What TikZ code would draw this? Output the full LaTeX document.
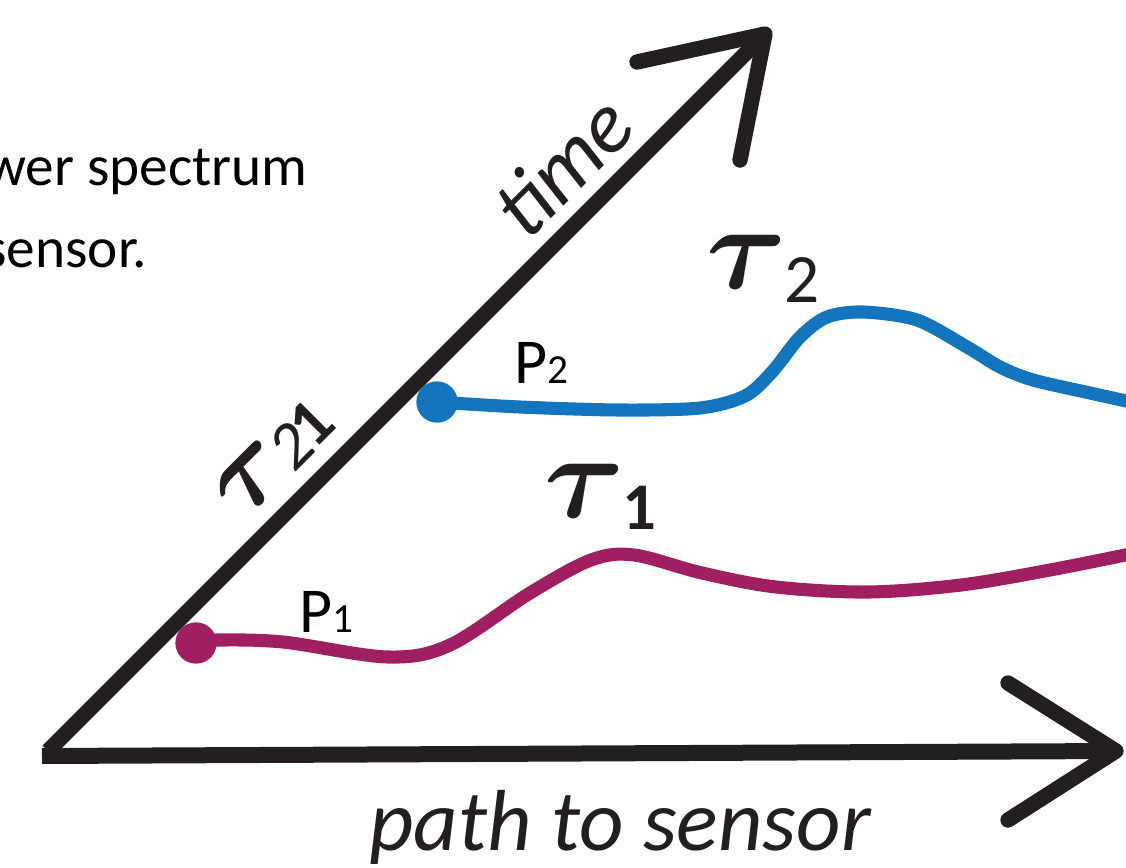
\documentclass[tikz,border=0pt]{standalone}
\usepackage{amsmath}
\usepackage{fontspec}
\setmainfont{Carlito}
\usepackage{graphicx}
\definecolor{axisc}{HTML}{231F20}
\definecolor{bluec}{HTML}{1275BD}
\definecolor{magc}{HTML}{A01F62}
\newcommand{\bigtau}{\scalebox{9.2}[9]{$\boldsymbol{\tau}$}}
\begin{document}
\begin{tikzpicture}[x=0.75pt,y=-0.75pt,
  axisline/.style={draw=axisc,line width=11.5pt,line cap=butt},
  arrowarm/.style={draw=axisc,line width=11.5pt,line cap=round,line join=round},
  curveline/.style={line width=9.8pt,line cap=round},
  dotnode/.style={circle,inner sep=0pt,minimum size=31pt},
  plabel/.style={inner sep=0pt,anchor=base west,font=\fontsize{48}{50}\selectfont},
  taulabel/.style={inner sep=0pt,anchor=base west,text=axisc},
  axislabel/.style={inner sep=0pt,text=axisc,font=\fontsize{65}{70}\selectfont\itshape},
  bodytext/.style={inner sep=0pt,anchor=base east,font=\fontsize{43}{48}\selectfont}]
\useasboundingbox (0,0) rectangle (1126,867);
% clipped body text
\node[bodytext] (t1) at (308,185) {wer spectrum};
\node[bodytext] (t2) at (147,267) {sensor.};
% axes
\coordinate (O) at (48,751);
\coordinate (Hstart) at (42,756);
\coordinate (Htip) at (1116,751);
\coordinate (Ttip) at (765,34);
\coordinate (Ta1) at (637,62);
\coordinate (Ta2) at (740,160);
\coordinate (Ha1) at (1008,683);
\coordinate (Ha2) at (1008,820);
\draw[axisline,line width=12pt] (Hstart) -- (Htip);
\draw[axisline] (O) -- (Ttip);
\draw[arrowarm] (Ta1) -- (Ttip) -- (Ta2);
\draw[arrowarm] (Ha1) -- (Htip) -- (Ha2);
% axis labels
\node[axislabel,rotate=45] (time) at (562,166) {time};
\node[axislabel,anchor=base] (path) at (620,850) {path to sensor};
% curves
\node[dotnode,fill=bluec] (P2dot) at (437,402) {};
\node[dotnode,fill=magc] (P1dot) at (196,643) {};
\draw[curveline,bluec] plot[smooth,tension=0.5] coordinates {(437,402) (520,407) (620,410) (700,408) (745,396) (772,372) (800,337) (827,317) (863,312) (917,320) (967,347) (1000,367) (1033,380) (1090,393) (1140,404)};
\draw[curveline,magc] plot[smooth,tension=0.55] coordinates {(196,642) (217,640) (283,642) (388,657) (450,645) (530,593) (591,560) (634,555) (702,573) (776,587) (868,592) (961,585) (1050,570) (1140,552)};
% point labels
\node[plabel] (P2) at (514,383) {P\fontsize{31}{32}\selectfont 2};
\node[plabel] (P1) at (299,632) {P\fontsize{31}{32}\selectfont 1};
% tau labels
\node[taulabel] (tau2) at (706,288) {\bigtau\hspace{-2pt}\raisebox{-10.5pt}{\fontsize{52}{54}\selectfont 2}};
\node[taulabel] (tau1) at (544,517) {\bigtau\hspace{-2pt}\raisebox{-9pt}{\fontsize{50}{52}\selectfont\bfseries 1}};
\node[taulabel,anchor=center,rotate=45] (tau21) at (274,458) {\scalebox{8.6}[8.2]{$\boldsymbol{\tau}$}\hspace{-3pt}\raisebox{-2pt}{\fontsize{50}{52}\selectfont\itshape 2}\hspace{-2pt}{\fontsize{50}{52}\selectfont\bfseries 1}};
\end{tikzpicture}
\end{document}
